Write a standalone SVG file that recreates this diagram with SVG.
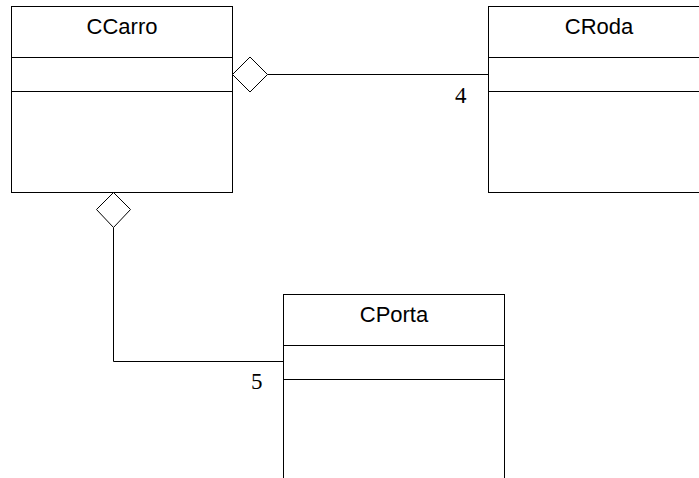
<svg xmlns="http://www.w3.org/2000/svg" width="699" height="478" viewBox="0 0 699 478">
<style>
.box{fill:#fff;stroke:#000;stroke-width:1}
.div{stroke:#000;stroke-width:1}
.name{font-family:"Liberation Sans",Arial,sans-serif;font-size:22px;fill:#000;text-anchor:middle}
.mult{font-family:"Liberation Serif","Times New Roman",serif;font-size:23px;fill:#000}
.conn{fill:none;stroke:#000;stroke-width:1}
.dia{fill:#fff;stroke:#000;stroke-width:1}
</style>
<rect width="699" height="478" fill="#fff"/>
<g id="CCarro">
<rect class="box" x="11.5" y="6.5" width="221" height="186"/>
<line class="div" x1="11.5" y1="57.5" x2="232.5" y2="57.5"/>
<line class="div" x1="11.5" y1="91.5" x2="232.5" y2="91.5"/>
<text class="name" x="122" y="34">CCarro</text>
</g>
<g id="CRoda">
<rect class="box" x="488.5" y="6.5" width="221" height="186"/>
<line class="div" x1="488.5" y1="57.5" x2="709.5" y2="57.5"/>
<line class="div" x1="488.5" y1="91.5" x2="709.5" y2="91.5"/>
<text class="name" x="599" y="34">CRoda</text>
</g>
<g id="CPorta">
<rect class="box" x="283.5" y="294.5" width="221" height="200"/>
<line class="div" x1="283.5" y1="345.5" x2="504.5" y2="345.5"/>
<line class="div" x1="283.5" y1="379.5" x2="504.5" y2="379.5"/>
<text class="name" x="394" y="322">CPorta</text>
</g>
<g id="connectors">
<polyline class="conn" points="267.5,74.5 488.5,74.5"/>
<polygon class="dia" points="232.5,74.5 250,57 267.5,74.5 250,92"/>
<text class="mult" x="455" y="103">4</text>
<polyline class="conn" points="113.5,227.5 113.5,361.5 283.5,361.5"/>
<polygon class="dia" points="113.5,192.5 130.5,209.5 113.5,227.5 96.5,209.5"/>
<text class="mult" x="251" y="389">5</text>
</g>
</svg>
